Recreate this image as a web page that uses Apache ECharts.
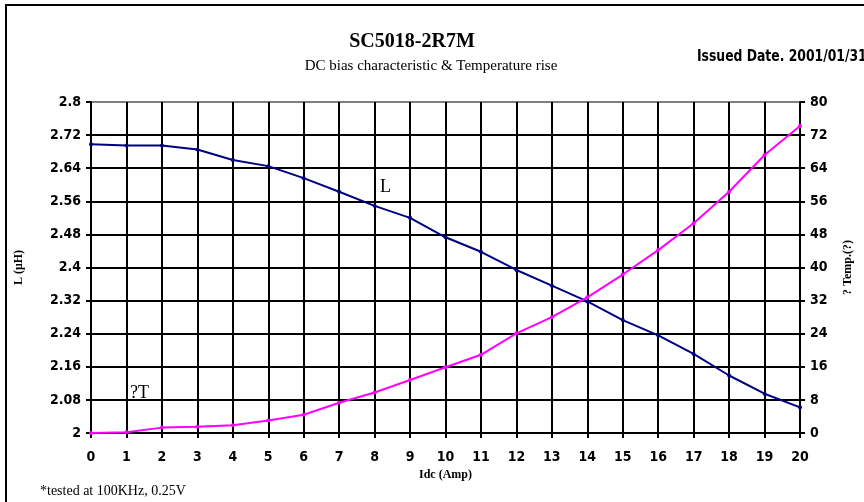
<!DOCTYPE html>
<html>
<head>
<meta charset="utf-8">
<script src="https://cdn.jsdelivr.net/npm/echarts@6/dist/echarts.min.js"></script>
<style>html,body{margin:0;padding:0;background:#fff;}#c{width:864px;height:502px;}</style>
</head>
<body>
<div id="c"></div>
<script>
const idc = [0,1,2,3,4,5,6,7,8,9,10,11,12,13,14,15,16,17,18,19,20];
const inductance = [2.698,2.695,2.695,2.685,2.660,2.645,2.616,2.583,2.549,2.520,2.473,2.438,2.394,2.356,2.318,2.273,2.236,2.191,2.139,2.095,2.062];
const tempRise = [0,0.2,1.3,1.5,1.9,3.0,4.4,7.3,9.8,12.8,15.9,18.9,24.1,28.0,32.8,38.3,44.2,50.7,58.3,67.2,74.2];
const leftTicks = [2,2.08,2.16,2.24,2.32,2.4,2.48,2.56,2.64,2.72,2.8];
const rightTicks = [0,8,16,24,32,40,48,56,64,72,80];

const narrow = '"DejaVu Sans Condensed","Liberation Sans Narrow",sans-serif';
const tickFont = {fontFamily:narrow, fontWeight:'bold', fontSize:14, color:'#000'};
const serif = '"Liberation Serif","Times New Roman",serif';

const chart = echarts.init(document.getElementById('c'));
const splitColors = leftTicks.map((t,i)=> i===leftTicks.length-1 ? '#808080' : '#000');
chart.setOption({
  animation:false,
  backgroundColor:'#fff',
  grid:{left:91,right:64,top:102,bottom:69},
  xAxis:{
    type:'value', min:0, max:20, interval:1,
    name:'Idc (Amp)', nameLocation:'middle', nameGap:26,
    nameTextStyle:{fontFamily:serif, fontWeight:'bold', fontSize:12, color:'#000'},
    axisLine:{lineStyle:{color:'#000',width:2}},
    axisTick:{show:true,length:5,lineStyle:{color:'#000',width:2}},
    axisLabel:Object.assign({margin:17},tickFont),
    splitLine:{show:true,lineStyle:{color:'#000',width:2}}
  },
  yAxis:[{
    type:'value', min:2, max:2.8, interval:0.08,
    name:'L (\u03bcH)', nameLocation:'middle', nameGap:66, nameRotate:90,
    nameTextStyle:{fontFamily:serif, fontWeight:'bold', fontSize:12, color:'#000'},
    axisLine:{show:true,lineStyle:{color:'#000',width:2}},
    axisTick:{show:true,length:5,lineStyle:{color:'#000',width:2}},
    axisLabel:Object.assign({margin:10, formatter:v=>String(+v.toFixed(2))},tickFont),
    splitLine:{show:true,lineStyle:{color:splitColors,width:2}}
  },{
    type:'value', min:0, max:80, interval:8, position:'right',
    name:'? Temp.(?)', nameLocation:'middle', nameGap:42, nameRotate:90,
    nameTextStyle:{fontFamily:serif, fontWeight:'bold', fontSize:12, color:'#000'},
    axisLine:{show:true,lineStyle:{color:'#000',width:2}},
    axisTick:{show:true,length:5,lineStyle:{color:'#000',width:2}},
    axisLabel:Object.assign({margin:10},tickFont),
    splitLine:{show:false}
  }],
  series:[{
    type:'line', name:'L', yAxisIndex:0,
    data: idc.map((x,i)=>[x,inductance[i]]),
    symbol:'circle', symbolSize:4,
    lineStyle:{color:'#000080',width:2}, itemStyle:{color:'#000080'}
  },{
    type:'line', name:'T', yAxisIndex:1,
    data: idc.map((x,i)=>[x,tempRise[i]]),
    symbol:'circle', symbolSize:4,
    lineStyle:{color:'#ff00ff',width:2}, itemStyle:{color:'#ff00ff'}
  }],
  graphic:[
    {type:'rect', shape:{x:6,y:5,width:900,height:520}, style:{fill:null,stroke:'#000',lineWidth:2}, silent:true},
    {type:'text', style:{x:412,y:42,text:'SC5018-2R7M',font:'bold 20px '+serif,fill:'#000',textAlign:'center',textVerticalAlign:'middle'}},
    {type:'text', style:{x:431,y:66,text:'DC bias characteristic & Temperature rise',font:'15px '+serif,fill:'#000',textAlign:'center',textVerticalAlign:'middle'}},
    {type:'text', x:697, y:57, scaleX:0.86, scaleY:1, style:{x:0,y:0,text:'Issued Date. 2001/01/31',font:'bold 16px '+narrow,fill:'#000',textAlign:'left',textVerticalAlign:'middle'}},
    {type:'text', style:{x:380,y:187,text:'L',font:'18px '+serif,fill:'#000',textAlign:'left',textVerticalAlign:'middle'}},
    {type:'text', style:{x:130,y:393,text:'?T',font:'18px '+serif,fill:'#000',textAlign:'left',textVerticalAlign:'middle'}},
    {type:'text', style:{x:40,y:491,text:'*tested at 100KHz, 0.25V',font:'14px '+serif,fill:'#000',textAlign:'left',textVerticalAlign:'middle'}}
  ]
});
</script>
</body>
</html>
